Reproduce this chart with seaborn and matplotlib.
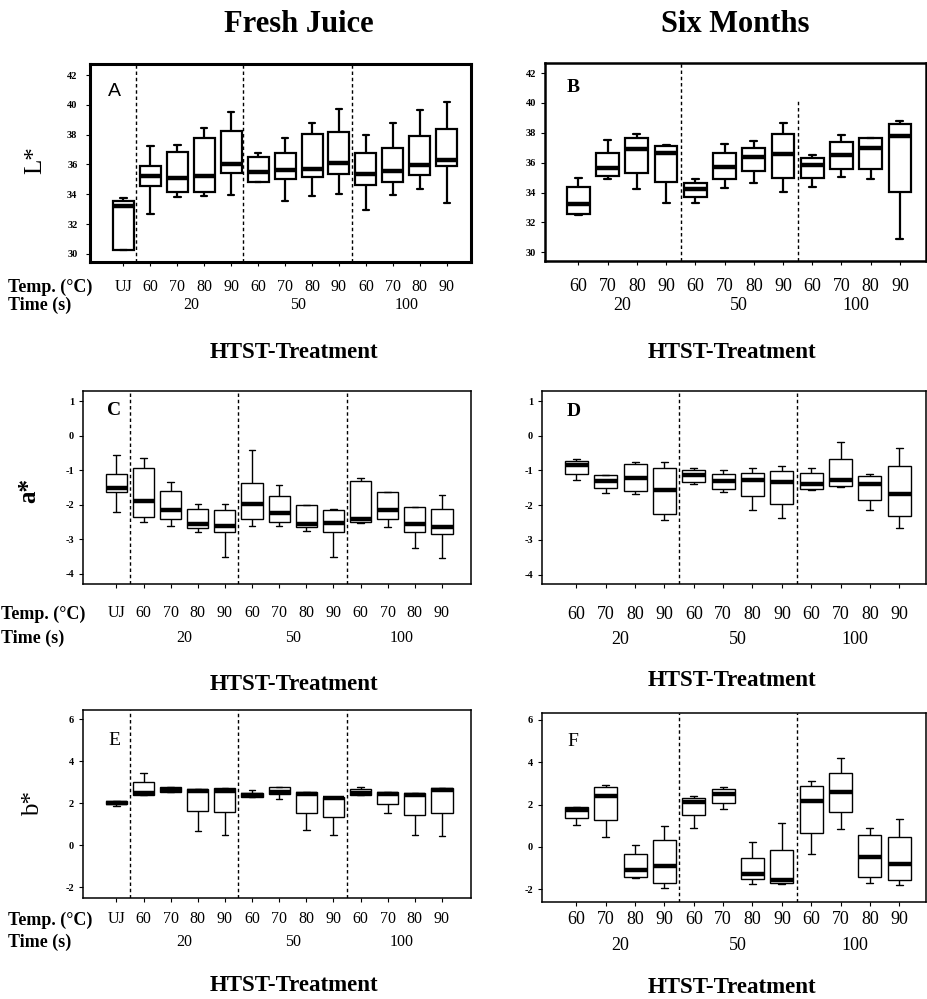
import numpy as np
import pandas as pd
import matplotlib
matplotlib.use("Agg")
import matplotlib.pyplot as plt
import seaborn as sns
from matplotlib.transforms import blended_transform_factory

# ---------------- data (five-number summaries) ----------------
temps_fresh = ["UJ", "60", "70", "80", "90", "60", "70", "80", "90", "60", "70", "80", "90"]
temps_six = ["60", "70", "80", "90", "60", "70", "80", "90", "60", "70", "80", "90"]
times = ["20", "50", "100"]

# A: L*, fresh juice
A_lo = [30.25, 32.66, 33.84, 33.89, 33.96, 34.80, 33.55, 33.91, 34.02, 32.95, 33.96, 34.36, 33.40]
A_q1 = [30.27, 34.56, 34.18, 34.13, 35.41, 34.85, 35.00, 35.14, 35.36, 34.63, 34.85, 35.30, 35.90]
A_med = [33.24, 35.23, 35.12, 35.26, 36.03, 35.52, 35.63, 35.68, 36.08, 35.36, 35.56, 35.97, 36.30]
A_q3 = [33.57, 35.90, 36.82, 37.80, 38.27, 36.53, 36.79, 38.02, 38.20, 36.79, 37.09, 37.91, 38.38]
A_hi = [33.73, 37.24, 37.31, 38.43, 39.50, 36.75, 37.76, 38.76, 39.70, 37.98, 38.76, 39.65, 40.17]

# B: L*, six months
B_lo = [32.50, 34.89, 34.25, 33.29, 33.29, 34.29, 34.63, 34.02, 34.34, 35.03, 34.92, 30.89]
B_q1 = [32.59, 35.14, 35.34, 34.69, 33.67, 34.89, 35.45, 35.00, 34.96, 35.59, 35.59, 34.02]
B_med = [33.24, 35.63, 36.90, 36.64, 34.22, 35.74, 36.41, 36.59, 35.85, 36.53, 36.97, 37.80]
B_q3 = [34.38, 36.68, 37.64, 37.13, 34.63, 36.64, 36.95, 37.93, 36.30, 37.40, 37.62, 38.60]
B_hi = [34.96, 37.53, 37.89, 37.20, 34.92, 37.24, 37.46, 38.65, 36.53, 37.87, 37.65, 38.76]

# C: a*, fresh juice
C_lo = [-2.20, -2.49, -2.61, -2.78, -3.50, -2.61, -2.61, -2.75, -3.50, -2.52, -2.65, -3.26, -3.55]
C_q1 = [-1.64, -2.34, -2.40, -2.66, -2.80, -2.42, -2.49, -2.63, -2.79, -2.51, -2.40, -2.79, -2.84]
C_med = [-1.52, -1.88, -2.16, -2.56, -2.61, -1.97, -2.23, -2.55, -2.54, -2.40, -2.15, -2.55, -2.63]
C_q3 = [-1.10, -0.93, -1.59, -2.11, -2.16, -1.38, -1.74, -2.02, -2.14, -1.30, -1.62, -2.05, -2.11]
C_hi = [-0.56, -0.66, -1.33, -1.97, -1.97, -0.42, -1.43, -2.02, -2.12, -1.22, -1.62, -2.05, -1.72]

# D: a*, six months
D_lo = [-1.28, -1.64, -1.68, -2.43, -1.38, -1.62, -2.15, -2.37, -1.55, -1.48, -2.15, -2.65]
D_q1 = [-1.11, -1.49, -1.58, -2.24, -1.33, -1.53, -1.74, -1.97, -1.54, -1.46, -1.86, -2.32]
D_med = [-0.85, -1.31, -1.21, -1.55, -1.12, -1.31, -1.26, -1.34, -1.38, -1.28, -1.39, -1.69]
D_q3 = [-0.72, -1.12, -0.82, -0.92, -0.99, -1.11, -1.07, -1.02, -1.07, -0.67, -1.16, -0.88]
D_hi = [-0.66, -1.12, -0.75, -0.75, -0.92, -0.99, -0.93, -0.88, -0.92, -0.18, -1.11, -0.34]

# E: b*, fresh juice
E_lo = [1.88, 2.39, 2.52, 0.68, 0.49, 2.28, 2.20, 0.70, 0.46, 2.36, 1.52, 0.49, 0.41]
E_q1 = [1.95, 2.40, 2.52, 1.60, 1.57, 2.28, 2.44, 1.55, 1.35, 2.36, 1.97, 1.44, 1.52]
E_med = [2.02, 2.50, 2.63, 2.58, 2.58, 2.38, 2.55, 2.44, 2.22, 2.47, 2.44, 2.36, 2.60]
E_q3 = [2.10, 2.98, 2.76, 2.69, 2.71, 2.47, 2.77, 2.55, 2.31, 2.65, 2.55, 2.47, 2.72]
E_hi = [2.10, 3.45, 2.76, 2.69, 2.71, 2.63, 2.77, 2.55, 2.31, 2.76, 2.55, 2.47, 2.72]

# F: b*, six months
F_lo = [1.02, 0.48, -1.45, -1.92, 0.87, 1.80, -1.73, -1.73, -0.34, 0.86, -1.70, -1.79]
F_q1 = [1.35, 1.27, -1.41, -1.68, 1.49, 2.06, -1.52, -1.68, 0.64, 1.63, -1.44, -1.54]
F_med = [1.74, 2.42, -1.07, -0.89, 2.10, 2.50, -1.26, -1.57, 2.18, 2.59, -0.47, -0.80]
F_q3 = [1.90, 2.81, -0.32, 0.32, 2.29, 2.73, -0.51, -0.15, 2.89, 3.51, 0.54, 0.46]
F_hi = [1.90, 2.91, 0.09, 1.00, 2.40, 2.81, 0.21, 1.14, 3.11, 4.19, 0.87, 1.33]

# ---------------- figure ----------------
sns.set_theme(style="white")
plt.rcParams["font.family"] = ["Liberation Serif", "DejaVu Serif"]
plt.rcParams["text.color"] = "black"
plt.rcParams["axes.labelcolor"] = "black"
plt.rcParams["xtick.color"] = "black"
plt.rcParams["ytick.color"] = "black"
plt.rcParams["axes.edgecolor"] = "black"

W, H = 928, 999
fig = plt.figure(figsize=(W / 100, H / 100), dpi=100)
fig.patch.set_facecolor("white")


def px_axes(l, r, t, b):
    return fig.add_axes([l / W, 1 - b / H, (r - l) / W, (b - t) / H])


def cat_names(temps, fresh):
    names = []
    for i, t in enumerate(temps):
        if fresh and i == 0:
            names.append("UJ")
        else:
            k = i - 1 if fresh else i
            names.append(f"{t}/{times[k // 4]}")
    return names


def make_df(names, lo, q1, med, q3, hi):
    rows = []
    for n, a, b, c, d, e in zip(names, lo, q1, med, q3, hi):
        for v in (a, b, c, d, e):
            rows.append((n, v))
    return pd.DataFrame(rows, columns=["treatment", "value"])


panels = [
    dict(key="A", stats=(A_lo, A_q1, A_med, A_q3, A_hi), fresh=True, box=(90, 471, 64, 262),
         xlim=(-1.24, 12.9), ylim=(29.46, 42.74), yticks=range(30, 43, 2), slw=2.2, blw=1.6,
         lstyle=dict(family="Liberation Sans"), lpos=(0.047, 0.86),
         dashes=[(0.45, 1.0), (4.45, 1.0), (8.5, 1.0)], pad=9.2, ypad=6,
         trow=287.5, srow=305, hrow=352.5),
    dict(key="B", stats=(B_lo, B_q1, B_med, B_q3, B_hi), fresh=False, box=(545, 926, 63, 261),
         xlim=(-1.14, 11.89), ylim=(29.42, 42.67), yticks=range(30, 43, 2), slw=1.8, blw=1.6,
         lstyle=dict(weight="bold"), lpos=(0.058, 0.874),
         dashes=[(3.5, 1.0), (7.5, 0.806)], pad=8.9, ypad=3.5,
         trow=287.5, srow=305, hrow=352.5),
    dict(key="C", stats=(C_lo, C_q1, C_med, C_q3, C_hi), fresh=True, box=(83, 471, 391, 584),
         xlim=(-1.23, 13.07), ylim=(-4.29, 1.29), yticks=range(-4, 2), slw=1.1, blw=1.0,
         lstyle=dict(weight="bold"), lpos=(0.062, 0.90),
         dashes=[(0.5, 1.0), (4.5, 1.0), (8.5, 1.0)], pad=12.4, ypad=3.5,
         trow=614, srow=638.5, hrow=685),
    dict(key="D", stats=(D_lo, D_q1, D_med, D_q3, D_hi), fresh=False, box=(542, 926, 391, 584),
         xlim=(-1.17, 11.91), ylim=(-4.27, 1.29), yticks=range(-4, 2), slw=1.1, blw=1.0,
         lstyle=dict(weight="bold"), lpos=(0.065, 0.896),
         dashes=[(3.5, 1.0), (7.5, 1.0)], pad=12.8, ypad=3.5,
         trow=616, srow=639, hrow=681),
    dict(key="E", stats=(E_lo, E_q1, E_med, E_q3, E_hi), fresh=True, box=(83, 471, 710, 898),
         xlim=(-1.23, 13.07), ylim=(-2.52, 6.43), yticks=range(-2, 7, 2), slw=1.1, blw=1.0,
         lstyle=dict(), lpos=(0.065, 0.84),
         dashes=[(0.5, 1.0), (4.5, 1.0), (8.5, 1.0)], pad=6.6, ypad=3.5,
         trow=920, srow=942.5, hrow=985.5),
    dict(key="F", stats=(F_lo, F_q1, F_med, F_q3, F_hi), fresh=False, box=(542, 926, 713, 902),
         xlim=(-1.17, 11.91), ylim=(-2.6, 6.32), yticks=range(-2, 7, 2), slw=1.1, blw=1.0,
         lstyle=dict(), lpos=(0.065, 0.847),
         dashes=[(3.5, 1.0), (7.5, 1.0)], pad=3.8, ypad=3.5,
         trow=921.5, srow=945, hrow=987.5),
]

for p in panels:
    temps = temps_fresh if p["fresh"] else temps_six
    names = cat_names(temps, p["fresh"])
    df = make_df(names, *p["stats"])
    ax = px_axes(*p["box"])
    sns.boxplot(data=df, x="treatment", y="value", order=names, whis=(0, 100), width=0.78,
                color="white", linecolor="black", linewidth=p["blw"], fliersize=0,
                medianprops=dict(color="black", linewidth=3.2, solid_capstyle="butt"),
                ax=ax)
    for cont in ax.containers:
        if hasattr(cont, "caps"):
            for cap in cont.caps:
                xd = np.asarray(cap.get_xdata(), dtype=float)
                m = xd.mean()
                cap.set_xdata([m - 0.12, m + 0.12])
    for x, ymax in p["dashes"]:
        ax.axvline(x, ymin=0, ymax=ymax, color="black", lw=1.0, ls=(0, (2.5, 2.0)))
    ax.set_xlim(*p["xlim"])
    ax.set_ylim(*p["ylim"])
    ax.set_yticks(list(p["yticks"]))
    ax.set_yticklabels([str(v) for v in p["yticks"]], fontsize=7.5, fontweight="bold")
    ax.set_xticks(range(len(names)))
    nfs = 11.5 if p["fresh"] else 13
    ax.set_xticklabels(temps, fontsize=nfs)
    ax.set_xlabel("")
    ax.set_ylabel("")
    ax.tick_params(axis="x", direction="out", length=3, width=0.8, pad=p["pad"], bottom=True,
                   color="black", labelcolor="black")
    ax.tick_params(axis="y", direction="out", length=3, width=0.8, pad=p["ypad"], left=True,
                   color="black", labelcolor="black")
    for s in ax.spines.values():
        s.set_visible(True)
        s.set_color("black")
        s.set_linewidth(p["slw"])
    ax.set_facecolor("white")
    ax.text(p["lpos"][0], p["lpos"][1], p["key"], transform=ax.transAxes, fontsize=14,
            ha="left", va="center", color="black", **p["lstyle"])

    tr = blended_transform_factory(ax.transData, fig.transFigure)
    off = 1 if p["fresh"] else 0
    for g, t in enumerate(times):
        xc = off + g * 4 + 1.5
        ax.text(xc, 1 - p["srow"] / H, t, transform=tr, ha="center", va="center", fontsize=nfs,
                color="black")
    if p["fresh"]:
        lx = 1 if p["key"] == "C" else 8
        fig.text(lx / W, 1 - p["trow"] / H, "Temp. (\u00b0C)", ha="left", va="center",
                 fontsize=13, fontweight="bold", color="black")
        fig.text(lx / W, 1 - p["srow"] / H, "Time (s)", ha="left", va="center",
                 fontsize=13, fontweight="bold", color="black")
        hx = 294
    else:
        hx = 732
    fig.text(hx / W, 1 - p["hrow"] / H, "HTST-Treatment", ha="center", va="center",
             fontsize=16.5, fontweight="bold", color="black")

fig.text(299 / W, 1 - 24 / H, "Fresh Juice", ha="center", va="center", fontsize=22,
         fontweight="bold", color="black")
fig.text(735 / W, 1 - 24 / H, "Six Months", ha="center", va="center", fontsize=22,
         fontweight="bold", color="black")

fig.text(35 / W, 1 - 160 / H, "L*", ha="center", va="center", rotation=90, fontsize=18, color="black")
fig.text(29 / W, 1 - 490 / H, "a*", ha="center", va="center", rotation=90, fontsize=18,
         fontweight="bold", color="black")
fig.text(33 / W, 1 - 803 / H, "b*", ha="center", va="center", rotation=90, fontsize=18, color="black")

fig.savefig("out.png", dpi=100, facecolor="white")
